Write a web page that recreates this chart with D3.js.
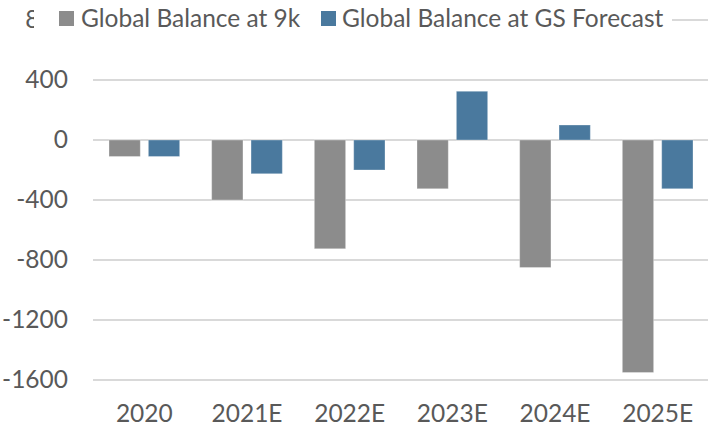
<!DOCTYPE html>
<html>
<head>
<meta charset="utf-8">
<script src="https://cdn.jsdelivr.net/npm/d3@7"></script>
<style>
  body { margin: 0; background: #fff; }
  svg { display: block; font-family: Lato, "Open Sans", sans-serif; }
</style>
</head>
<body>
<svg id="chart" width="712" height="433"></svg>
<script>
// data
var categories = ["2020", "2021E", "2022E", "2023E", "2024E", "2025E"];
var seriesNames = ["Global Balance at 9k", "Global Balance at GS Forecast"];
var balance9k = [-110, -400, -725, -325, -850, -1550];
var balanceGS = [-110, -225, -200, 325, 100, -325];
var yTicks = [-1600, -1200, -800, -400, 0, 400, 800];

var colours = ["#8c8c8c", "#4a799e"];
var textColour = "#595959";

var svg = d3.select("#chart"),
  w = 712, h = 433;

var x0 = d3.scaleBand()
  .domain(categories)
  .range([93, 709])
  .padding(0);

var x1 = d3.scaleBand()
  .domain(seriesNames)
  .range([16, x0.bandwidth() - 16])
  .paddingInner(0.205);

var y = d3.scaleLinear()
  .domain([-1600, 800])
  .range([380, 20]);

// gridlines
svg.append("g")
  .attr("class", "grid")
  .selectAll("line")
  .data(yTicks)
  .enter()
  .append("line")
  .attr("x1", 93)
  .attr("x2", 708)
  .attr("y1", d => y(d))
  .attr("y2", d => y(d))
  .attr("stroke", "#d9d9d9")
  .attr("stroke-width", 2);

// y axis labels (plain hyphen, no thousands comma)
var yAxis = d3.axisLeft(y).tickValues(yTicks).tickSize(0).tickPadding(0)
  .tickFormat(d => String(d));
svg.append("g")
  .attr("class", "y axis")
  .attr("transform", "translate(68,0)")
  .call(yAxis)
  .call(g => g.select(".domain").remove())
  .selectAll("text")
  .attr("fill", textColour)
  .attr("font-size", "24.5px")
  .attr("font-family", "Lato, 'Open Sans', sans-serif");

// x axis labels
var xAxis = d3.axisBottom(x0).tickSize(0).tickPadding(0);
svg.append("g")
  .attr("class", "x axis")
  .attr("transform", "translate(0,404)")
  .call(xAxis)
  .call(g => g.select(".domain").remove())
  .selectAll("text")
  .attr("fill", textColour)
  .attr("font-size", "24.5px")
  .attr("font-family", "Lato, 'Open Sans', sans-serif")
  .attr("dy", "0.72em");

// bars
var rows = categories.map((c, i) => ({ cat: c, values: [balance9k[i], balanceGS[i]] }));

svg.append("g")
  .attr("class", "bars")
  .selectAll("g")
  .data(rows)
  .enter()
  .append("g")
  .attr("transform", d => "translate(" + x0(d.cat) + ",0)")
  .selectAll("rect")
  .data(d => d.values.map((v, j) => ({ name: seriesNames[j], value: v, j: j })))
  .enter()
  .append("rect")
  .attr("x", d => x1(d.name))
  .attr("width", x1.bandwidth())
  .attr("y", d => y(Math.max(0, d.value)))
  .attr("height", d => Math.abs(y(d.value) - y(0)))
  .attr("fill", d => colours[d.j])
  .attr("stroke", "#ffffff")
  .attr("stroke-opacity", 0.3)
  .attr("stroke-width", 1);

// legend, sits on top of the 800 line and half of its label
var legend = svg.append("g").attr("class", "legend");
legend.append("rect")
  .attr("x", 34).attr("y", 0)
  .attr("width", 638).attr("height", 38)
  .attr("fill", "#fff");

var legendX = [[59, 81], [321, 342]];
seriesNames.forEach((name, i) => {
  legend.append("rect")
    .attr("x", legendX[i][0]).attr("y", 11)
    .attr("width", 15).attr("height", 15)
    .attr("fill", colours[i]);
  legend.append("text")
    .attr("x", legendX[i][1]).attr("y", 27)
    .attr("fill", textColour)
    .attr("font-size", "24.5px")
    .text(name);
});
</script>
</body>
</html>
